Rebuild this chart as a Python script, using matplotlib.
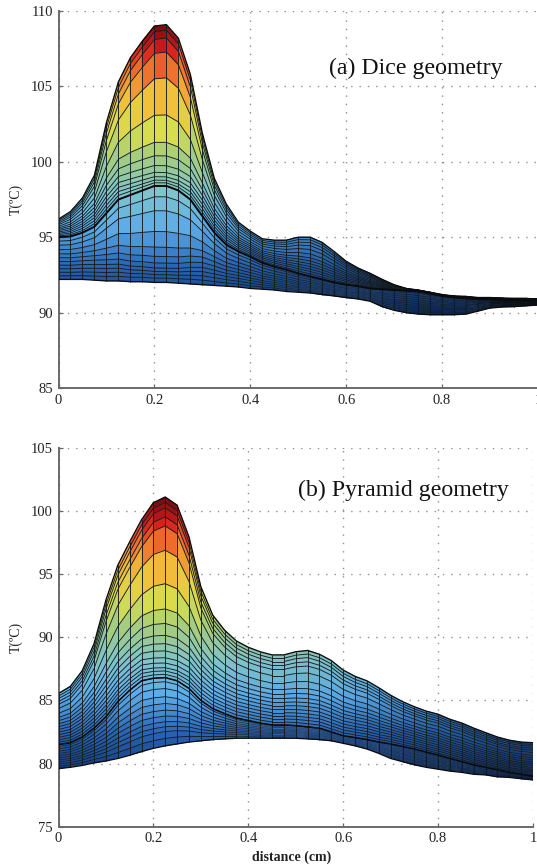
import numpy as np
import matplotlib
matplotlib.use("Agg")
import matplotlib.pyplot as plt
from matplotlib.collections import LineCollection
from matplotlib.colors import LinearSegmentedColormap
from matplotlib.patches import Rectangle

plt.rcParams["font.family"] = ["Liberation Serif", "DejaVu Serif"]

# outlines, one value per mesh column (every 0.025 cm)
distance = [i * 0.025 for i in range(41)]

top_a = [96.2, 96.7, 97.6, 99.1, 102.6, 105.3, 106.9, 108.0, 109.0, 109.1, 108.2,
         105.8, 101.9, 98.9, 97.2, 96.0, 95.4, 94.9, 94.8, 94.8, 95.0,
         95.0, 94.65, 94.05, 93.4, 92.95, 92.6, 92.2, 91.85, 91.6, 91.5,
         91.35, 91.2, 91.1, 91.07, 91.0, 91.0, 90.96, 90.94, 90.94, 90.9]
crease_a = [95.0, 95.05, 95.3, 95.7, 96.6, 97.5, 97.8, 98.1, 98.4, 98.4, 98.1,
            97.5, 96.4, 95.3, 94.5, 94.05, 93.7, 93.3, 93.05, 92.85, 92.6,
            92.4, 92.2, 92.0, 91.85, 91.75, 91.6, 91.55, 91.5, 91.45, 91.4,
            91.25, 91.1, 91.0, 90.95, 90.9, 90.9, 90.85, 90.85, 90.8, 90.8]
bottom_a = [92.2, 92.2, 92.2, 92.15, 92.1, 92.1, 92.05, 92.05, 92.0, 92.0, 91.95,
            91.9, 91.85, 91.8, 91.75, 91.7, 91.6, 91.55, 91.5, 91.4, 91.35,
            91.3, 91.2, 91.1, 91.0, 90.9, 90.75, 90.4, 90.15, 90.0, 89.9,
            89.86, 89.86, 89.86, 89.9, 90.1, 90.3, 90.37, 90.4, 90.45, 90.5]

top_b = [85.55, 86.1, 87.35, 89.5, 92.95, 95.7, 97.55, 99.3, 100.65, 101.1, 100.45,
         97.95, 94.0, 91.75, 90.55, 89.7, 89.2, 88.85, 88.6, 88.6, 88.85,
         88.95, 88.65, 88.15, 87.4, 86.9, 86.55, 86.0, 85.4, 84.9, 84.5,
         84.15, 83.9, 83.5, 83.2, 82.8, 82.45, 82.1, 81.85, 81.7, 81.65]
crease_b = [81.5, 81.65, 82.1, 82.8, 83.7, 84.9, 85.8, 86.55, 86.75, 86.8, 86.55,
            85.95, 85.0, 84.35, 83.95, 83.6, 83.4, 83.2, 83.05, 83.05, 83.0,
            82.9, 82.8, 82.5, 82.2, 82.05, 81.9, 81.7, 81.55, 81.35, 81.15,
            80.9, 80.67, 80.4, 80.15, 79.9, 79.7, 79.5, 79.3, 79.15, 79.0]
bottom_b = [79.6, 79.7, 79.85, 80.05, 80.2, 80.4, 80.65, 80.95, 81.2, 81.4, 81.55,
            81.7, 81.8, 81.9, 81.95, 82.0, 82.0, 82.0, 82.0, 82.0, 82.0,
            81.95, 81.9, 81.8, 81.6, 81.4, 81.15, 80.8, 80.4, 80.15, 79.9,
            79.7, 79.55, 79.4, 79.3, 79.15, 79.1, 78.95, 78.9, 78.8, 78.7]

# where the grid rows sit at the peak column, as a share of the gap between outlines.
# only these rows were read; the rows elsewhere are derived from them and the outlines
upper_rows_a = [0, .019, .035, .056, .083, .125, .186, .27, .44, .67, .83, .917, .965, 1]
lower_rows_a = [0, .045, .08, .113, .148, .2, .268, .364, .526, .742, .887, 1]
upper_rows_b = [0, .018, .037, .055, .081, .11, .148, .188, .234, .30, .38, .52, .705, .84, .89, .94, .97, 1]
lower_rows_b = [0, .11, .21, .28, .354, .437, .524, .62, .72, .84, .94, 1]

surface_colors = ["#0e3270", "#2a66b6", "#5cabe8", "#7fc4cc", "#a8ce78",
                  "#d6de4e", "#f2c03a", "#ee6a2c", "#d41c1c", "#7c0c10"]
surface_stops = [0, .17, .30, .42, .56, .64, .75, .86, .93, 1]
shade_a = ([0, .3, .6, .85, .92, 1], [1.0, 1.0, .82, .8, .25, .15])
shade_b = ([0, .3, .6, 1], [1.0, 1.0, .97, .8])

yticks_a = [85, 90, 95, 100, 105, 110]
yticks_b = [75, 80, 85, 90, 95, 100, 105]
xticks = [0, .2, .4, .6, .8, 1]
xticklabels = ["0", "0.2", "0.4", "0.6", "0.8", "1"]

W, H = 537, 865
LINE = "#141c22"
cmap = LinearSegmentedColormap.from_list("surf", list(zip(surface_stops, surface_colors)))


def build_rows(top, crease, bottom, upper, lower):
    x = np.array(distance)
    top, crease, bottom = np.array(top), np.array(crease), np.array(bottom)
    # rows bunch up under the peak, and are about even where the hump is small
    w = (top - crease) / (top - crease).max()
    rows = []
    for j, f in enumerate(lower):
        even = j / (len(lower) - 1)
        rows.append(bottom + (crease - bottom) * (even + (f - even) * w))
    for j, f in enumerate(upper[1:], 1):
        even = j / (len(upper) - 1)
        rows.append(crease + (top - crease) * (even + (f - even) * w))
    return x, np.array(rows)


def draw_panel(fig, box, ylim, yticks, rows_in, shade, crease_lw, label, label_xy, blank):
    left, right, ytop, ybot = box
    ax = fig.add_axes([left / W, 1 - ybot / H, (right - left) / W, (ybot - ytop) / H])
    x, rows = build_rows(*rows_in)
    n_lower = len(rows_in[4])
    X = np.tile(x, (rows.shape[0], 1))
    cells = (rows[:-1, :-1] + rows[1:, :-1] + rows[:-1, 1:] + rows[1:, 1:]) / 4
    rgba = cmap((cells - cells.min()) / (cells.max() - cells.min()))
    cx = (x[:-1] + x[1:]) / 2
    rgba[..., :3] *= np.interp(cx, shade[0], shade[1])[None, :, None]
    # face-coloured edges close the pale seams between thin cells
    ax.pcolormesh(X, rows, rgba, shading="flat", edgecolors="face", linewidth=0.3,
                  antialiased=True, zorder=3)

    # row lines fade where the lower rows get too tight to tell apart
    px_per_deg = (ybot - ytop) / (ylim[1] - ylim[0])
    segs, alphas = [], []
    for j in range(1, rows.shape[0] - 1):
        for i in range(len(x) - 1):
            segs.append([(x[i], rows[j, i]), (x[i + 1], rows[j, i + 1])])
            gap = (rows[j + 1, i] - rows[j - 1, i]) / 2 * px_per_deg
            alphas.append(np.clip(gap / 2.5, .2, 1) if j < n_lower - 1 else 1)
    colors = np.tile(matplotlib.colors.to_rgba(LINE), (len(segs), 1))
    colors[:, 3] = alphas
    ax.add_collection(LineCollection(segs, colors=colors, linewidths=0.65, zorder=4))
    ax.vlines(x, rows[0], rows[-1], color=LINE, lw=0.65, zorder=4)

    ax.plot(x, rows[n_lower - 1], color="#0a0a0a", lw=crease_lw, zorder=5)
    for y in (rows[0], rows[-1]):
        ax.plot(x, y, color="#0a0a0a", lw=0.95, zorder=5)

    ax.set_xlim(0, 1)
    ax.set_ylim(*ylim)
    ax.set_xticks(xticks)
    ax.set_xticklabels(xticklabels)
    ax.set_yticks(yticks)
    ax.grid(True, color="#8f8f8f", lw=1.0, linestyle=(0, (1, 5)), zorder=1)
    ax.tick_params(direction="in", length=3, width=0.9, color="#666666",
                   labelsize=10.5, pad=4, labelcolor="#222222")
    for s in ("top", "right"):
        ax.spines[s].set_visible(False)
    for s in ("left", "bottom"):
        ax.spines[s].set_color("#6a6a6a")
        ax.spines[s].set_linewidth(1.4)
    ax.set_ylabel("T(ºC)", fontsize=10, labelpad=6, color="#222222")
    # the white block behind each caption cuts the grid lines
    bx0, by0, bx1, by1 = blank
    ax.add_patch(Rectangle((bx0, by0), bx1 - bx0, by1 - by0, transform=ax.transAxes,
                           facecolor="white", edgecolor="none", zorder=1.5))
    ax.text(label_xy[0], label_xy[1], label, transform=ax.transAxes, fontsize=17.2,
            ha="center", va="center", color="#111111", zorder=2)
    return ax


fig = plt.figure(figsize=(W / 100, H / 100), dpi=100)
draw_panel(fig, (58.5, 538, 11, 388), (85, 110), yticks_a,
           (top_a, crease_a, bottom_a, upper_rows_a, lower_rows_a), shade_a, 1.4,
           "(a) Dice geometry", (0.745, 0.849), (.523, .776, .973, .93))
ax_b = draw_panel(fig, (58.5, 533, 447.7, 826.7), (75, 105), yticks_b,
                  (top_b, crease_b, bottom_b, upper_rows_b, lower_rows_b), shade_b, 1.1,
                  "(b) Pyramid geometry", (0.728, 0.886), (.418, .824, .994, .964))
ax_b.set_xlabel("distance (cm)", fontsize=10, fontweight="bold", color="#222222")
ax_b.xaxis.set_label_coords(.492, -0.064)

fig.savefig("out.png", dpi=100)
